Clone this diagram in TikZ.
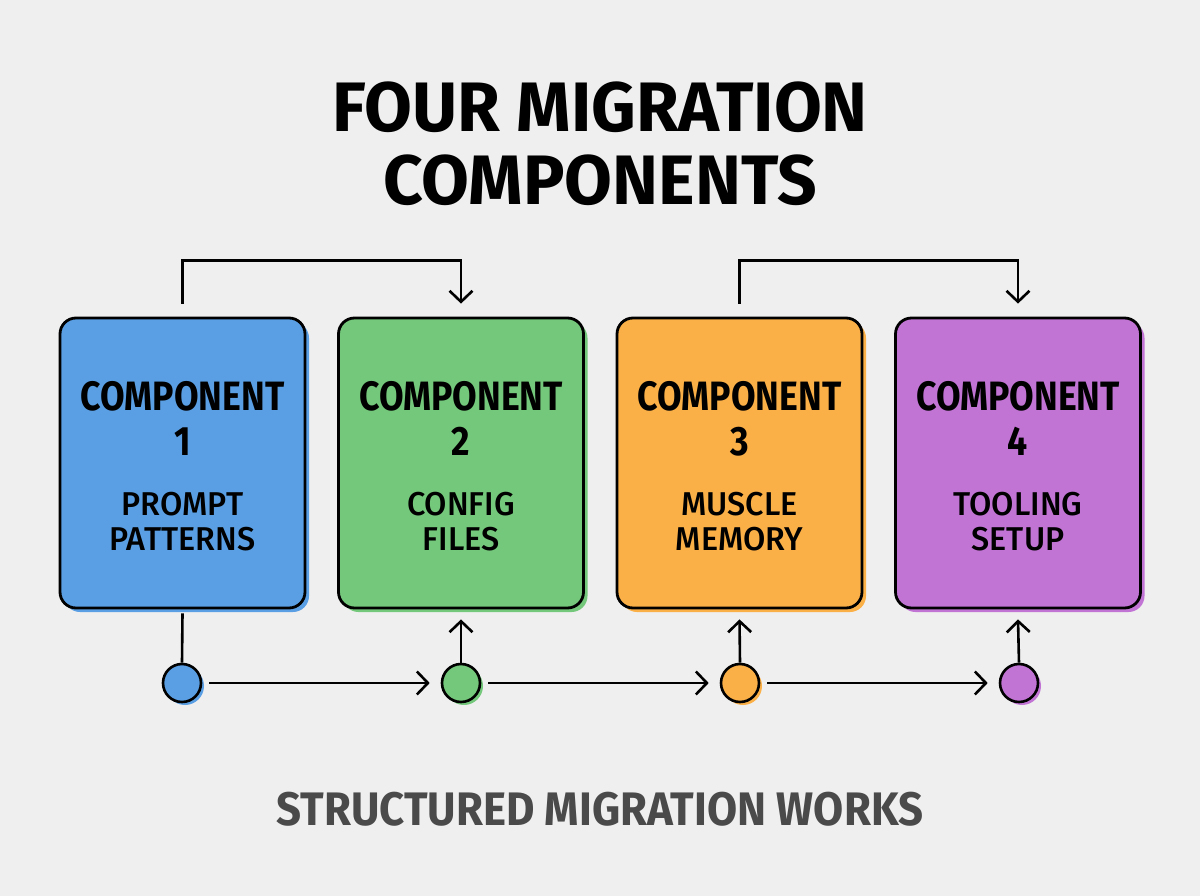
\documentclass[tikz,border=0pt]{standalone}
\usepackage{fontspec}
\usetikzlibrary{arrows.meta,shadows}
\newfontfamily\hbold{Fira Sans Bold}[FakeStretch=0.87]
\newfontfamily\htitle{Fira Sans Bold}[FakeStretch=0.99]
\newfontfamily\hcapt{Fira Sans Bold}[FakeStretch=0.93]
\newfontfamily\hmed{Fira Sans Medium}[FakeStretch=0.98]
\definecolor{bg}{HTML}{EFEFEF}
\definecolor{cblue}{HTML}{5A9FE4}
\definecolor{cgreen}{HTML}{74C87B}
\definecolor{corange}{HTML}{FBAF47}
\definecolor{cpurple}{HTML}{C274D5}
\definecolor{capt}{HTML}{4A4A4A}
\tikzset{
  compbox/.style={draw=black, line width=2.8pt, rounded corners=16pt, minimum width=245pt, minimum height=290pt, fill=#1,
    general shadow={shadow xshift=4pt, shadow yshift=-4pt, fill=#1}},
  dot/.style={circle, draw=black, line width=2.6pt, minimum size=38pt, inner sep=0pt, fill=#1,
    general shadow={shadow xshift=3pt, shadow yshift=-3pt, fill=#1}},
  conn/.style={line width=2.6pt, draw=black},
  tip/.style={-{Straight Barb[length=11pt,width=23pt]}},
  headtxt/.style={font=\hbold\fontsize{41}{41}\selectfont, anchor=base, inner sep=0pt},
  subtxt/.style={font=\hmed\fontsize{33}{33}\selectfont, anchor=base, inner sep=0pt},
}
\begin{document}
\begin{tikzpicture}[x=1pt,y=-1pt]
\fill[bg] (0,0) rectangle (1200,896);
\useasboundingbox (0,0) rectangle (1200,896);
% title
\node[anchor=base, inner sep=0pt, font=\htitle\fontsize{70}{70}\selectfont] (t1) at (600,132) {FOUR MIGRATION};
\node[anchor=base, inner sep=0pt, font=\htitle\fontsize{70}{70}\selectfont] (t2) at (600,205) {COMPONENTS};
% boxes
\node[compbox=cblue] (b1) at (182.5,463) {};
\node[compbox=cgreen] (b2) at (461,463) {};
\node[compbox=corange] (b3) at (739.5,463) {};
\node[compbox=cpurple] (b4) at (1018,463) {};
% box texts
\foreach \n/\x/\a/\b in {1/182.5/PROMPT/PATTERNS, 2/461/CONFIG/FILES, 3/739.5/MUSCLE/MEMORY, 4/1018/TOOLING/SETUP}{
  \node[headtxt] (h\n) at (\x,410) {COMPONENT};
  \node[headtxt] (n\n) at (\x,455) {\n};
  \node[subtxt] (la\n) at (\x,515) {\a};
  \node[subtxt] (lb\n) at (\x,550) {\b};
}
% circles
\node[dot=cblue] (c1) at (182,683) {};
\node[dot=cgreen] (c2) at (461,683) {};
\node[dot=corange] (c3) at (740,683) {};
\node[dot=cpurple] (c4) at (1019,683) {};
% top connectors
\draw[conn, tip] ([yshift=13pt]b1.north) |- ([yshift=56pt]b2.north) -- ([yshift=13pt]b2.north);
\draw[conn, tip] ([yshift=13pt]b3.north) |- ([yshift=56pt]b4.north) -- ([yshift=13pt]b4.north);
% bottom connectors
\draw[conn] ([yshift=-4pt]b1.south) -- (c1.north);
\draw[conn, tip] (c2.north) -- ([yshift=-10pt]b2.south);
\draw[conn, tip] (c3.north) -- ([yshift=-10pt]b3.south);
\draw[conn, tip] (c4.north) -- ([yshift=-10pt]b4.south);
\draw[conn, tip] ([xshift=7pt]c1.east) -- ([xshift=-11pt]c2.west);
\draw[conn, tip] ([xshift=7pt]c2.east) -- ([xshift=-11pt]c3.west);
\draw[conn, tip] ([xshift=7pt]c3.east) -- ([xshift=-11pt]c4.west);
% caption
\node[anchor=base, inner sep=0pt, text=capt, font=\hcapt\fontsize{47}{47}\selectfont] (cap) at (600,825) {STRUCTURED MIGRATION WORKS};
\end{tikzpicture}
\end{document}
